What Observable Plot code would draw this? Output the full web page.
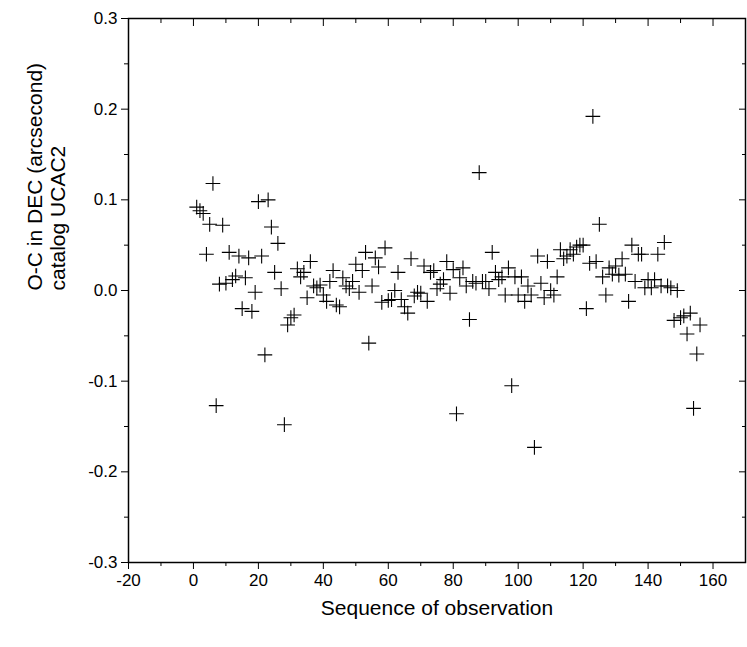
<!DOCTYPE html>
<html>
<head>
<meta charset="utf-8">
<script src="https://cdn.jsdelivr.net/npm/d3@7"></script>
<script src="https://cdn.jsdelivr.net/npm/@observablehq/plot@0.6"></script>
<style>
  body { margin: 0; background: #fff; }
</style>
</head>
<body>
<div id="chart"></div>
<script>
// O-C residuals (arcsec) vs sequence number, 1..156
const residuals = [
  0.092, 0.088, 0.085, 0.040, 0.073, 0.118, -0.127, 0.007, 0.072, 0.008,
  0.042, 0.012, 0.016, 0.038, -0.020, 0.014, 0.036, -0.023, -0.002, 0.098,
  0.038, -0.071, 0.100, 0.070, 0.020, 0.052, 0.002, -0.148, -0.038, -0.030,
  -0.027, 0.024, 0.015, 0.020, -0.008, 0.032, 0.005, 0.003, 0.006, -0.005,
  -0.012, 0.010, 0.022, -0.016, -0.018, 0.014, 0.005, 0.002, 0.010, 0.029,
  -0.002, 0.022, 0.042, -0.058, 0.005, 0.036, 0.026, -0.013, 0.047, -0.011,
  -0.010, 0.000, 0.020, -0.010, -0.018, -0.025, 0.035, -0.006, -0.002, -0.003,
  0.027, -0.012, 0.020, 0.022, 0.002, 0.007, 0.012, 0.032, -0.003, 0.023,
  -0.136, 0.014, 0.025, 0.005, -0.032, 0.010, 0.008, 0.130, 0.010, 0.010,
  0.002, 0.042, 0.020, 0.012, 0.015, -0.005, 0.025, -0.105, 0.015, -0.005,
  0.015, -0.012, 0.005, -0.005, -0.173, 0.038, 0.008, -0.008, 0.032, 0.000,
  -0.005, 0.015, 0.045, 0.035, 0.038, 0.045, 0.040, 0.048, 0.050, 0.050,
  -0.020, 0.030, 0.192, 0.032, 0.073, 0.015, -0.005, 0.025, 0.018, 0.027,
  0.017, 0.035, 0.018, -0.012, 0.050, 0.010, 0.040, 0.040, 0.003, 0.012,
  0.003, 0.012, 0.040, 0.005, 0.053, 0.005, 0.003, -0.033, 0.000, -0.030,
  -0.028, -0.048, -0.025, -0.130, -0.070, -0.038
];
const xTicks = [-20, 0, 20, 40, 60, 80, 100, 120, 140, 160];
const xMinor = [-10, 10, 30, 50, 70, 90, 110, 130, 150];
const yTicks = [-0.3, -0.2, -0.1, 0.0, 0.1, 0.2, 0.3];
const yMinor = [-0.25, -0.15, -0.05, 0.05, 0.15, 0.25];

const data = residuals.map((v, i) => ({seq: i + 1, oc: v}));
const font = "'Liberation Sans', Arial, sans-serif";

const chart = Plot.plot({
  width: 747,
  height: 647,
  marginLeft: 128,
  marginRight: 2,
  marginTop: 18,
  marginBottom: 85,
  style: {fontFamily: font, fontSize: "17px", color: "#000", background: "#fff"},
  x: {domain: [-20, 170]},
  y: {domain: [-0.3, 0.3]},
  marks: [
    Plot.frame({stroke: "#000", strokeWidth: 1.5}),
    Plot.axisX({ticks: xTicks, tickSize: 7, tickFormat: d => String(d), tickPadding: 4, label: null}),
    Plot.axisX({ticks: xMinor, tickSize: 4, tickFormat: () => "", label: null}),
    Plot.axisX({ticks: xTicks, anchor: "top", tickSize: -7, tickFormat: () => "", label: null}),
    Plot.axisX({ticks: xMinor, anchor: "top", tickSize: -4, tickFormat: () => "", label: null}),
    Plot.axisY({ticks: yTicks, tickSize: 7, tickFormat: d => d.toFixed(1), tickPadding: 4, label: null}),
    Plot.axisY({ticks: yMinor, tickSize: 4, tickFormat: () => "", label: null}),
    Plot.axisY({ticks: yTicks, anchor: "right", tickSize: -7, tickFormat: () => "", label: null}),
    Plot.axisY({ticks: yMinor, anchor: "right", tickSize: -4, tickFormat: () => "", label: null}),
    Plot.text(["Sequence of observation"], {
      frameAnchor: "bottom", dy: 52, fontSize: 21, fill: "#000"
    }),
    Plot.text(["O-C in DEC (arcsecond)\ncatalog UCAC2"], {
      frameAnchor: "left", dx: -82, rotate: -90, fontSize: 21, lineHeight: 1.1, fill: "#000"
    }),
    Plot.dot(data, {x: "seq", y: "oc", symbol: "plus", r: 4.8, stroke: "#000", strokeWidth: 1.1})
  ]
});

document.getElementById("chart").append(chart);
</script>
</body>
</html>
